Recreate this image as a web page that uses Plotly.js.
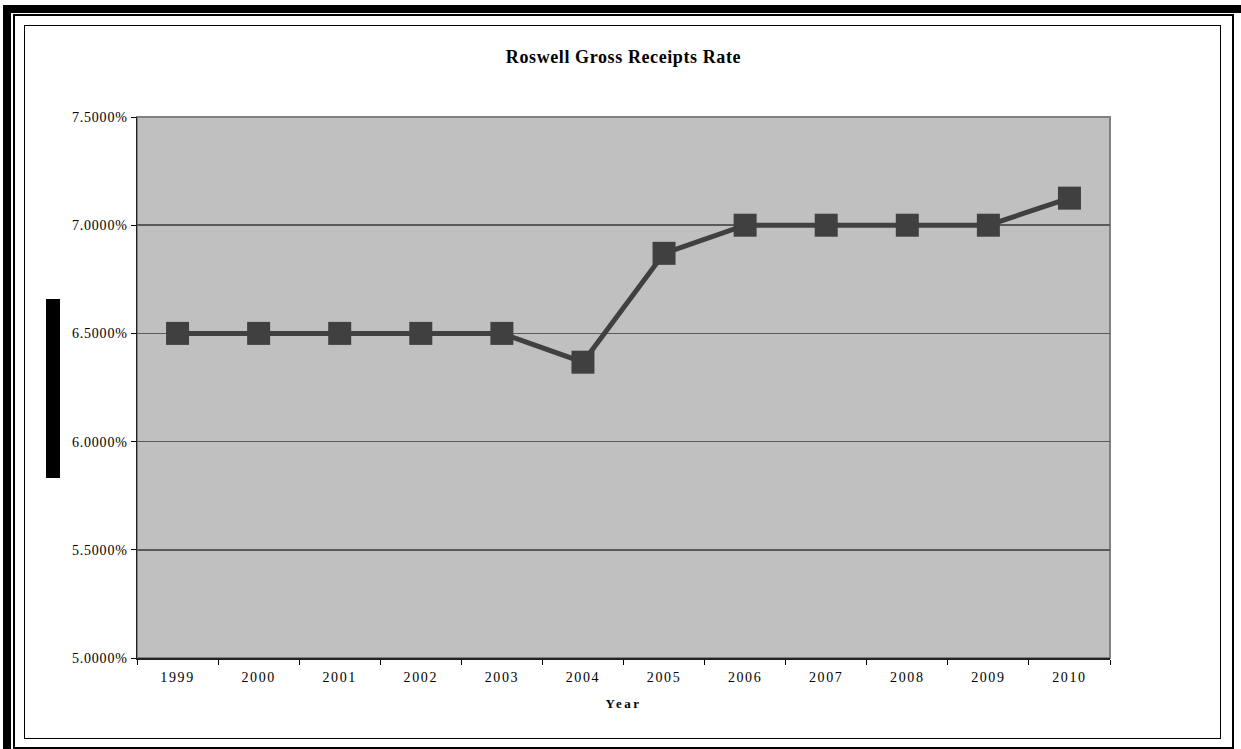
<!DOCTYPE html>
<html>
<head>
<meta charset="utf-8">
<script src="https://cdn.plot.ly/plotly-3.0.1.min.js"></script>
<style>
  html, body { margin: 0; padding: 0; background: #fff; }
  #wrap { position: relative; width: 1241px; height: 749px; overflow: hidden; background: #fff; }
  #chart { position: absolute; left: 0; top: 0; width: 1241px; height: 749px; }
  .fr { position: absolute; box-sizing: border-box; pointer-events: none; }
  #chart .xtick text { letter-spacing: 1.6px; }
  #chart .ytick text { letter-spacing: 0.8px; }
  #chart .g-xtitle text { letter-spacing: 2.5px; }
  #chart .gtitle { letter-spacing: 0.6px; }
</style>
</head>
<body>
<div id="wrap">
  <div id="chart"></div>
  <!-- outer thick frame -->
  <div class="fr" style="left:3px; top:5px; width:1250px; height:760px; border:8px solid #000;"></div>
  <!-- thin frame line -->
  <div class="fr" style="left:13px; top:14px; width:1221px; height:735px; border:2px solid #000;"></div>
  <!-- inner chart border -->
  <div class="fr" style="left:24px; top:25px; width:1197px; height:714px; border:1px solid #000;"></div>
  <!-- black bar at left -->
  <div class="fr" style="left:46px; top:299px; width:14px; height:179px; background:#000;"></div>
</div>
<script>
const years = ['1999','2000','2001','2002','2003','2004','2005','2006','2007','2008','2009','2010'];
const rates = [6.5, 6.5, 6.5, 6.5, 6.5, 6.367, 6.87, 7.0, 7.0, 7.0, 7.0, 7.125];
const chartTitle = 'Roswell Gross Receipts Rate';
const xTitle = 'Year';

const serif = '"Liberation Serif", "Times New Roman", Times, serif';

const trace = {
  type: 'scatter',
  mode: 'lines+markers',
  x: years,
  y: rates,
  line: { color: '#404040', width: 5 },
  marker: { symbol: 'square', size: 23, color: '#404040' },
  hoverinfo: 'skip',
  showlegend: false,
  cliponaxis: false
};

const layout = {
  width: 1241,
  height: 749,
  margin: { l: 137, r: 131, t: 117, b: 91 },
  paper_bgcolor: 'rgba(0,0,0,0)',
  plot_bgcolor: '#c0c0c0',
  font: { family: serif, color: '#000' },
  title: {
    text: '<b>' + chartTitle + '</b>',
    font: { family: serif, size: 18, color: '#000' },
    x: 0.5, xref: 'paper', xanchor: 'center',
    y: 1 - 57 / 749, yref: 'container', yanchor: 'middle'
  },
  xaxis: {
    type: 'category',
    range: [-0.5, years.length - 0.5],
    autorange: false,
    tickson: 'boundaries',
    ticks: 'outside',
    ticklen: 5,
    tickcolor: '#000',
    tickwidth: 1,
    ticklabelstandoff: 6,
    showline: true,
    linecolor: '#222',
    linewidth: 1.5,
    showgrid: false,
    zeroline: false,
    tickfont: { family: serif, size: 14, color: '#000' },
    title: { text: '<b>' + xTitle + '</b>', font: { family: serif, size: 13, color: '#000' }, standoff: 14 },
    automargin: false,
    fixedrange: true
  },
  yaxis: {
    range: [5, 7.5],
    autorange: false,
    dtick: 0.5,
    tick0: 5,
    tickformat: '.4f',
    ticksuffix: '%',
    ticks: 'outside',
    ticklen: 5,
    tickcolor: '#000',
    showline: true,
    linecolor: '#222',
    linewidth: 1.5,
    showgrid: true,
    gridcolor: '#5a5a5a',
    gridwidth: 1.5,
    zeroline: false,
    tickfont: { family: serif, size: 14, color: '#000' },
    automargin: false,
    fixedrange: true
  },
  shapes: [
    { type: 'rect', xref: 'paper', yref: 'paper', x0: 0, x1: 1, y0: 0, y1: 1,
      line: { color: '#808080', width: 2 }, fillcolor: 'rgba(0,0,0,0)', layer: 'below' }
  ]
};

Plotly.newPlot('chart', [trace], layout, { displayModeBar: false, staticPlot: true });
</script>
</body>
</html>
